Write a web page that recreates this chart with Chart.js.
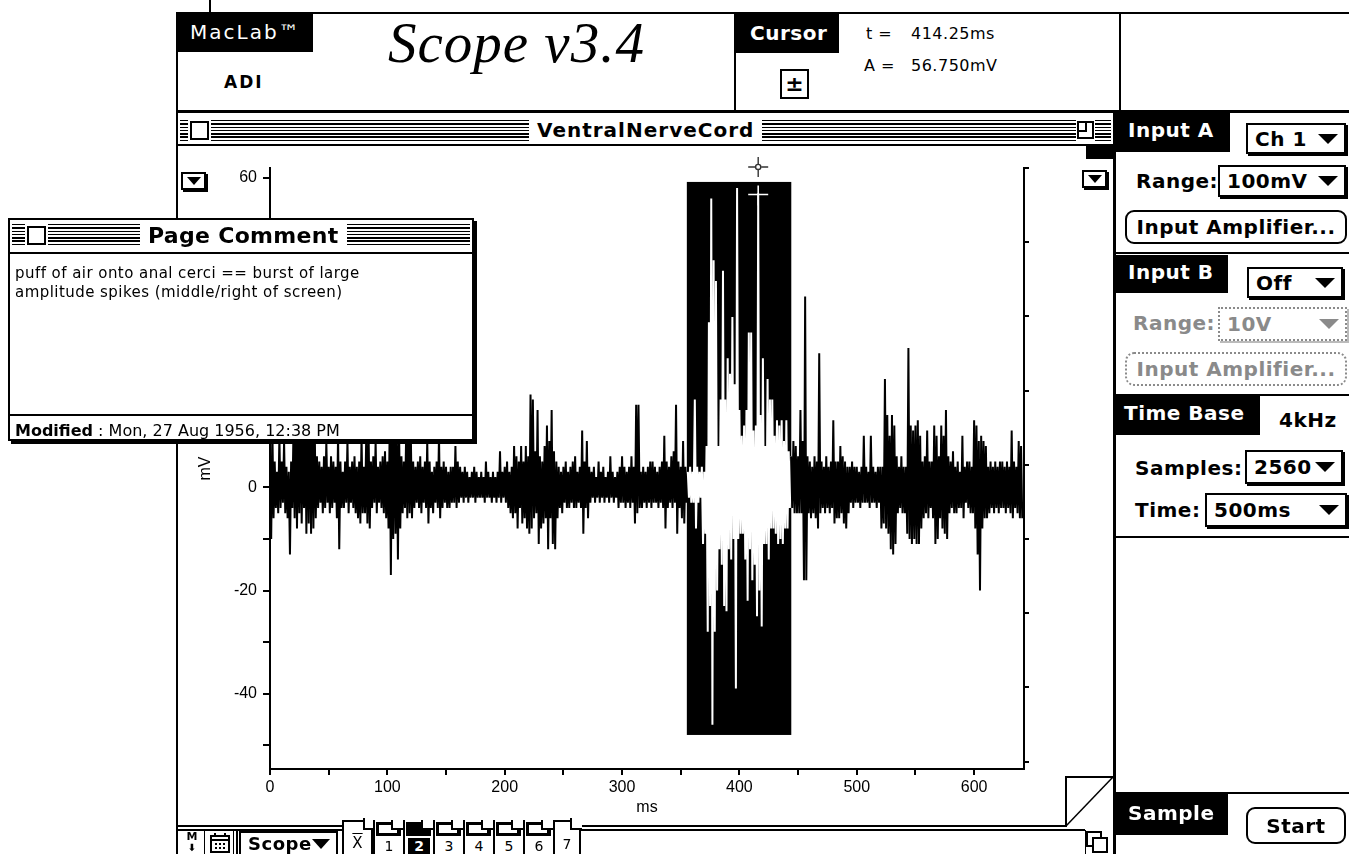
<!DOCTYPE html>
<html><head><meta charset="utf-8">
<script src="https://cdn.jsdelivr.net/npm/chart.js@4.4.1/dist/chart.umd.min.js"></script>
<style>
html,body{margin:0;padding:0;background:#fff;}
body{width:1349px;height:854px;position:relative;overflow:hidden;font-family:"DejaVu Sans",sans-serif;color:#000;}
.a{position:absolute;box-sizing:border-box;}
.blk{background:#000;color:#fff;}
.lbl{font-weight:bold;font-size:20px;letter-spacing:0.5px;line-height:24px;white-space:nowrap;}
.stripes{background:repeating-linear-gradient(to bottom,#000 0px,#000 1.4px,#fff 1.4px,#fff 3.3px);}
.popup{border:2px solid #000;box-shadow:2px 2px 0 #000;background:#fff;font-weight:bold;font-size:20px;letter-spacing:0.5px;display:flex;align-items:center;justify-content:space-between;padding:0 6px 0 7px;white-space:nowrap;}
.btn{border:2px solid #000;border-radius:9px;background:#fff;font-weight:bold;font-size:20px;letter-spacing:0.5px;display:flex;align-items:center;justify-content:center;white-space:nowrap;}
.dd{display:inline-block;width:0;height:0;border-left:10px solid transparent;border-right:10px solid transparent;border-top:10px solid #000;}
.ddg{border-top-color:#8a8a8a;}
.g{color:#8a8a8a;}
.geneva{font-family:"DejaVu Sans",sans-serif;font-size:16px;letter-spacing:0.5px;line-height:16px;white-space:nowrap;}
.tab{position:absolute;top:820px;height:34px;width:30px;border-left:2px solid #000;background:#fff;font-size:14px;text-align:center;}
</style></head>
<body>
<!-- header -->
<div class="a" style="left:209px;top:0;width:2px;height:13px;background:#000"></div>
<div class="a" style="left:176px;top:12px;width:1173px;height:101px;border-top:2px solid #000;border-left:2px solid #000;border-bottom:3px solid #000"></div>
<div class="a blk" style="left:176px;top:13px;width:137px;height:39px;font-size:20px;letter-spacing:2px;line-height:39px;padding-left:14px">MacLab™</div>
<div class="a lbl" style="left:224px;top:70px;font-size:17px;letter-spacing:2px">ADI</div>
<div class="a" style="left:388px;top:8px;font-family:'Liberation Serif',serif;font-style:italic;font-size:57px;line-height:70px;letter-spacing:1px;white-space:nowrap">Scope v3.4</div>
<div class="a" style="left:734px;top:12px;width:2px;height:100px;background:#000"></div>
<div class="a blk lbl" style="left:736px;top:13px;width:103px;height:40px;padding:8px 0 0 14px">Cursor</div>
<div class="a geneva" style="left:866px;top:26px">t =</div>
<div class="a geneva" style="left:911px;top:26px">414.25ms</div>
<div class="a geneva" style="left:864px;top:58px">A =</div>
<div class="a geneva" style="left:911px;top:58px">56.750mV</div>
<div class="a" style="left:780px;top:69px;width:29px;height:30px;border:2px solid #000;font-weight:bold;font-size:22px;line-height:25px;text-align:center">±</div>
<div class="a" style="left:1119px;top:12px;width:2px;height:100px;background:#000"></div>

<!-- main window frame -->
<div class="a" style="left:176px;top:112px;width:2px;height:742px;background:#000"></div>
<div class="a" style="left:178px;top:144px;width:935px;height:2px;background:#000"></div>
<div class="a stripes" style="left:180px;top:120px;width:931px;height:22px"></div>
<div class="a" style="left:190px;top:121px;width:19px;height:19px;border:2px solid #000;background:#fff;box-shadow:0 0 0 2px #fff"></div>
<div class="a lbl" style="left:529px;top:116px;height:28px;background:#fff;padding:2px 8px 0 8px;font-size:20px;letter-spacing:1px">VentralNerveCord</div>
<div class="a" style="left:1076px;top:119px;width:19px;height:23px;background:#fff"></div>
<div class="a" style="left:1077px;top:121px;width:17px;height:18px;border:2px solid #000;background:#fff"></div>
<div class="a" style="left:1077px;top:121px;width:10px;height:11px;border-right:2px solid #000;border-bottom:2px solid #000"></div>
<div class="a" style="left:1086px;top:146px;width:29px;height:13px;background:#000"></div>
<div class="a" style="left:181px;top:172px;width:25px;height:18px;border:2px solid #000;box-shadow:2px 2px 0 #000;background:#fff;display:flex;align-items:center;justify-content:center"><span class="dd" style="border-left-width:7px;border-right-width:7px;border-top-width:8px"></span></div>
<div class="a" style="left:1082px;top:170px;width:25px;height:18px;border:2px solid #000;box-shadow:2px 2px 0 #000;background:#fff;display:flex;align-items:center;justify-content:center"><span class="dd" style="border-left-width:7px;border-right-width:7px;border-top-width:8px"></span></div>

<canvas id="c" class="a" width="935" height="680" style="left:178px;top:146px;width:935px;height:680px"></canvas>

<!-- size box -->
<svg class="a" style="left:1065px;top:776px" width="50" height="52"><rect x="1" y="1" width="50" height="52" fill="#fff"/><line x1="1" y1="0" x2="1" y2="51" stroke="#000" stroke-width="2"/><line x1="0" y1="1" x2="50" y2="1" stroke="#000" stroke-width="2"/><line x1="1" y1="50" x2="48" y2="1" stroke="#000" stroke-width="1.5"/></svg>

<!-- bottom toolbar -->
<div class="a" style="left:178px;top:825px;width:888px;height:2px;background:#000"></div>
<div class="a" style="left:178px;top:829px;width:907px;height:2px;background:#000"></div>
<div class="a" style="left:185px;top:831px;font-size:11px;line-height:11px;font-weight:bold;text-align:center;width:14px">M<br><span style="font-size:10px">⬇</span></div>
<div class="a" style="left:204px;top:831px;width:1px;height:23px;background:#000"></div>
<svg class="a" style="left:210px;top:833px" width="21" height="20"><rect x="1" y="3" width="18" height="16" fill="#fff" stroke="#000" stroke-width="2"/><line x1="1" y1="7" x2="19" y2="7" stroke="#000" stroke-width="2"/><g fill="#000"><rect x="5" y="10" width="2" height="2"/><rect x="9" y="10" width="2" height="2"/><rect x="13" y="10" width="2" height="2"/><rect x="5" y="14" width="2" height="2"/><rect x="9" y="14" width="2" height="2"/><rect x="13" y="14" width="2" height="2"/><rect x="4" y="0" width="2" height="4"/><rect x="14" y="0" width="2" height="4"/></g></svg>
<div class="a" style="left:233px;top:831px;width:1px;height:23px;background:#000"></div>
<div class="a" style="left:236px;top:831px;width:2px;height:23px;background:#000"></div>
<div class="a popup" style="left:239px;top:831px;width:99px;height:25px;box-shadow:none;font-size:18px">Scope<span class="dd" style="border-left-width:9px;border-right-width:9px;border-top-width:10px"></span></div>
<div class="a" style="left:342px;top:820px;width:31px;height:34px;border:2px solid #000;border-bottom:none;background:#fff;font-size:15px;text-align:center;line-height:18px;padding-top:12px"><span style="text-decoration:overline">X</span></div>
<div class="a" style="left:363px;top:818px;width:12px;height:12px;background:#fff;border-left:2px solid #000;border-bottom:2px solid #000"></div>
<div id="tabs"></div>
<div class="a" style="left:553px;top:820px;width:28px;height:34px;border:2px solid #000;border-bottom:none;background:#fff;font-size:14px;text-align:center;padding-top:14px">7</div>
<div class="a" style="left:570px;top:818px;width:12px;height:12px;background:#fff;border-left:2px solid #000;border-bottom:2px solid #000"></div>
<svg class="a" style="left:1085px;top:830px" width="28" height="24"><rect x="2" y="2" width="14" height="14" fill="#fff" stroke="#000" stroke-width="2"/><rect x="8" y="8" width="14" height="14" fill="#fff" stroke="#000" stroke-width="2"/><line x1="0" y1="0" x2="0" y2="24" stroke="#000" stroke-width="2"/></svg>

<!-- right panel -->
<div class="a" style="left:1113px;top:112px;width:3px;height:742px;background:#000"></div>
<div class="a blk lbl" style="left:1116px;top:113px;width:114px;height:39px;padding:5px 0 0 12px">Input A</div>
<div class="a popup" style="left:1246px;top:123px;width:100px;height:31px">Ch 1<span class="dd"></span></div>
<div class="a lbl" style="left:1136px;top:169px">Range:</div>
<div class="a popup" style="left:1218px;top:165px;width:128px;height:32px">100mV<span class="dd"></span></div>
<div class="a btn" style="left:1125px;top:210px;width:222px;height:34px">Input Amplifier...</div>
<div class="a" style="left:1116px;top:252px;width:233px;height:2px;background:#000"></div>
<div class="a blk lbl" style="left:1116px;top:255px;width:112px;height:38px;padding:5px 0 0 12px">Input B</div>
<div class="a popup" style="left:1247px;top:267px;width:96px;height:31px">Off<span class="dd"></span></div>
<div class="a lbl g" style="left:1133px;top:311px">Range:</div>
<div class="a popup g" style="left:1218px;top:307px;width:129px;height:34px;border:2px dotted #8a8a8a;box-shadow:2px 2px 0 #bbb">10V<span class="dd ddg"></span></div>
<div class="a btn g" style="left:1125px;top:352px;width:222px;height:34px;border:2px dotted #8a8a8a">Input Amplifier...</div>
<div class="a" style="left:1116px;top:394px;width:233px;height:2px;background:#000"></div>
<div class="a blk lbl" style="left:1116px;top:396px;width:144px;height:39px;padding:5px 0 0 8px">Time Base</div>
<div class="a lbl" style="left:1279px;top:408px">4kHz</div>
<div class="a lbl" style="left:1135px;top:456px">Samples:</div>
<div class="a popup" style="left:1245px;top:450px;width:98px;height:34px">2560<span class="dd"></span></div>
<div class="a lbl" style="left:1135px;top:498px">Time:</div>
<div class="a popup" style="left:1205px;top:493px;width:142px;height:34px">500ms<span class="dd"></span></div>
<div class="a" style="left:1116px;top:536px;width:233px;height:2px;background:#000"></div>
<div class="a" style="left:1116px;top:792px;width:233px;height:2px;background:#000"></div>
<div class="a blk lbl" style="left:1116px;top:794px;width:112px;height:41px;padding:7px 0 0 12px">Sample</div>
<div class="a btn" style="left:1246px;top:807px;width:100px;height:37px">Start</div>

<!-- page comment window -->
<div class="a" style="left:8px;top:218px;width:466px;height:223px;border:2px solid #000;box-shadow:3px 3px 0 #000;background:#fff;z-index:10">
  <div class="a" style="left:0;top:32px;width:462px;height:2px;background:#000"></div>
  <div class="a stripes" style="left:2px;top:4px;width:458px;height:23px"></div>
  <div class="a" style="left:17px;top:6px;width:19px;height:19px;border:2px solid #000;background:#fff;box-shadow:0 0 0 2px #fff"></div>
  <div class="a lbl" style="left:130px;top:1px;height:30px;background:#fff;padding:2px 8px 0 8px;font-size:22px;letter-spacing:0.3px;line-height:26px">Page Comment</div>
  <div class="a" style="left:5px;top:44px;font-size:15px;letter-spacing:0.45px;line-height:19px;white-space:nowrap">puff of air onto anal cerci == burst of large<br>amplitude spikes (middle/right of screen)</div>
  <div class="a" style="left:0;top:194px;width:462px;height:2px;background:#000"></div>
  <div class="a" style="left:5px;top:201px;font-size:16px;line-height:19px;white-space:nowrap"><b>Modified</b> : Mon, 27 Aug 1956, 12:38 PM</div>
</div>

<script>
// ---- data ----
const sampleStepMs = 1;
const traceMv = [
4,-10,12,-6,5,-4,3,-5,10,-4,
5,-3,9,-5,4,-6,3,-13,5,-4,
11,-6,14,-8,12,-5,15,-7,10,-4,
13,-9,18,-7,20,-9,16,-8,14,-6,
6,-4,5,-3,4,-5,6,-4,9,-3,
4,-5,6,-4,5,-3,4,-6,10,-12,
5,-4,3,-4,5,-3,9,-5,4,-3,
5,-4,6,-5,4,-6,5,-7,10,-5,
4,-5,10,-7,11,-8,5,-4,6,-3,
9,-5,4,-3,5,-4,6,-5,7,-6,
5,-8,12,-17,14,-10,16,-9,12,-14,
11,-8,6,-5,5,-4,10,-6,12,-5,
10,-6,5,-4,4,-3,5,-4,6,-5,
4,-3,5,-4,9,-7,5,-4,3,-5,
4,-3,5,-4,10,-6,4,-4,5,-3,
4,-4,3,-4,4,-3,4,-3,8,-4,
5,-3,4,-2,3,-3,4,-2,3,-3,
2,-2,3,-2,4,-3,3,-2,2,-2,
3,-2,2,-3,5,-2,3,-2,2,-3,
3,-2,2,-3,3,-2,7,-3,3,-2,
4,-3,5,-4,3,-5,4,-6,8,-5,
6,-8,5,-4,8,-7,5,-6,8,-8,
6,-9,18,-8,17,-6,7,-5,15,-11,
6,-8,5,-7,8,-6,12,-12,9,-6,
15,-11,7,-12,5,-6,4,-4,3,-5,
4,-3,5,-4,3,-4,4,-3,5,-4,
6,-4,3,-3,4,-4,11,-9,5,-4,
9,-6,4,-3,3,-2,4,-3,2,-2,
5,-3,3,-2,4,-3,2,-2,3,-3,
6,-2,3,-3,2,-2,3,-4,4,-3,
6,-3,4,-4,3,-3,4,-4,6,-3,
4,-7,16,-5,16,-4,3,-4,4,-3,
3,-4,4,-3,5,-4,5,-3,4,-3,
3,-4,4,-3,5,-4,10,-8,5,-4,
4,-3,6,-4,7,-3,16,-9,5,-4,
4,-6,9,-7,4,-3,3,-2,4,-3,
3,-3,17,-8,4,-3,3,-2,4,-11,
3,-9,8,-28,32,-23,56,-46,44,-28,
40,-20,8,-12,17,-15,42,-23,17,-24,
25,-12,22,-14,33,-10,20,-39,58,-10,
15,-9,10,-9,12,-14,15,-22,30,-12,
30,-18,11,-15,12,-25,57,-20,14,-27,
25,-11,8,-11,21,-14,17,-8,17,-8,
10,-9,13,-11,12,-10,13,-11,9,-8,
13,-8,7,-4,6,-4,9,-5,8,-5,
6,-5,15,-5,9,-18,37,-18,6,-5,
5,-6,4,-5,6,-6,5,-8,26,-5,
5,-4,4,-5,6,-4,4,-5,5,-4,
13,-7,5,-6,5,-6,8,-5,6,-7,
5,-8,4,-5,4,-3,5,-4,4,-3,
4,-3,3,-4,4,-3,10,-3,4,-3,
3,-4,10,-3,4,-3,3,-4,4,-3,
4,-8,4,-7,21,-8,14,-9,10,-12,
14,-13,12,-11,6,-5,4,-4,6,-5,
4,-5,4,-9,27,-10,12,-11,11,-10,
12,-11,13,-11,10,-8,5,-6,6,-5,
11,-6,5,-4,5,-6,12,-11,10,-10,
6,-6,12,-8,10,-9,15,-10,6,-5,
5,-4,7,-5,4,-5,5,-4,3,-4,
10,-6,4,-3,5,-4,5,-5,4,-5,
13,-8,12,-13,9,-20,10,-8,9,-6,
8,-6,4,-5,5,-4,4,-5,5,-4,
4,-5,5,-4,5,-4,4,-5,5,-4,
4,-5,11,-6,5,-4,4,-5,9,-6,
8,-6
];
const xTickMs = [0,50,100,150,200,250,300,350,400,450,500,550,600];
const xLabelEveryMs = 100;
const yTickMv = [60,50,40,30,20,10,0,-10,-20,-30,-40,-50];
const yLabelEveryMv = 20;
const rightAxisTicks = [0,1,2,3,4,5,6,7,8];
const xRangeMs = [0, 642.5];
const yRangeMv = [-54.6, 61.9];
const rightRange = [-0.1, 8];
const selectionMs = [355.2, 444.2];
const selectionMv = [-48.0, 59.2];
const cursorMs = 416;
const cursorMv = 56.75;
const markerMv = 62.1;
const tabLabels = ['1','2','3','4','5','6'];
const selectedTab = '2';

// ---- tabs ----
(function(){
  const host = document.getElementById('tabs');
  tabLabels.forEach((t,i)=>{
    const sel = t===selectedTab;
    const d = document.createElement('div');
    d.className='tab';
    d.style.left=(373+i*30)+'px';
    d.innerHTML = '<div style="position:absolute;left:1px;top:2px;width:25px;height:14px;box-sizing:border-box;border:3px solid #000;border-right-width:4px;background:'+(sel?'#000':'#fff')+'"></div>'+
      '<div style="position:absolute;left:16px;top:0px;width:10px;height:8px;background:#fff;border-left:2px solid #000;border-bottom:2px solid #000"></div>'+
      '<div style="position:absolute;left:'+(sel?'3':'0')+'px;top:18px;width:'+(sel?'22':'28')+'px;height:16px;line-height:16px;font-size:14px;'+(sel?'background:#000;color:#fff;font-weight:bold;':'')+'">'+t+'</div>';
    host.appendChild(d);
  });
})();

// ---- chart ----
const inSel = v => v >= selectionMs[0] && v <= selectionMs[1];
const overlay = {
  id:'overlay',
  beforeDatasetsDraw(chart){
    const {ctx, scales:{x,y}} = chart;
    const x0 = x.getPixelForValue(selectionMs[0]), x1 = x.getPixelForValue(selectionMs[1]);
    const y0 = y.getPixelForValue(selectionMv[1]), y1 = y.getPixelForValue(selectionMv[0]);
    ctx.save(); ctx.fillStyle='#000'; ctx.fillRect(x0,y0,x1-x0,y1-y0); ctx.restore();
  },
  afterDatasetsDraw(chart){
    const {ctx, scales:{x,y}} = chart;
    const cx = x.getPixelForValue(cursorMs);
    const cy = y.getPixelForValue(cursorMv);
    const my = y.getPixelForValue(markerMv);
    ctx.save();
    ctx.strokeStyle='#fff'; ctx.lineWidth=1.6;
    ctx.beginPath();
    ctx.moveTo(cx-10,cy); ctx.lineTo(cx+10,cy);
    ctx.moveTo(cx,cy-9); ctx.lineTo(cx,cy+11);
    ctx.stroke();
    ctx.strokeStyle='#333'; ctx.lineWidth=1.4;
    ctx.beginPath();
    ctx.moveTo(cx-10,my); ctx.lineTo(cx-3,my);
    ctx.moveTo(cx+3,my); ctx.lineTo(cx+10,my);
    ctx.moveTo(cx,my-10); ctx.lineTo(cx,my-3);
    ctx.moveTo(cx,my+3); ctx.lineTo(cx,my+10);
    ctx.stroke();
    ctx.beginPath(); ctx.arc(cx,my,2.6,0,Math.PI*2); ctx.fillStyle='#fff'; ctx.fill(); ctx.stroke();
    ctx.restore();
  }
};
const tickFont = {family:'Liberation Sans', size:16};
new Chart(document.getElementById('c'), {
  type:'line',
  data:{datasets:[{
    data: traceMv.map((v,i)=>({x:i*sampleStepMs, y:v})),
    borderColor:'#000', borderWidth:2, pointRadius:0, tension:0,
    borderJoinStyle:'bevel',
    segment:{borderColor: c => (inSel(c.p0.parsed.x) && inSel(c.p1.parsed.x)) ? '#fff' : '#000'}
  }]},
  options:{
    responsive:false, animation:false, devicePixelRatio:1, events:[],
    layout:{padding:{top:22,left:0,right:0,bottom:0}},
    plugins:{legend:{display:false}, tooltip:{enabled:false}},
    scales:{
      x:{type:'linear', min:xRangeMs[0], max:xRangeMs[1],
        afterBuildTicks:s=>{s.ticks=xTickMs.map(v=>({value:v}));},
        afterFit:s=>{s.height=57;},
        ticks:{callback:v=> v%xLabelEveryMs===0 ? String(v) : '', font:tickFont, color:'#000', padding:3, maxRotation:0, autoSkip:false},
        grid:{drawOnChartArea:false, drawTicks:true, tickLength:6, color:'#000', lineWidth:2},
        border:{display:true, color:'#000', width:2},
        title:{display:true, text:'ms', font:tickFont, color:'#000', padding:{top:0,bottom:9}}
      },
      y:{type:'linear', position:'left', min:yRangeMv[0], max:yRangeMv[1],
        afterBuildTicks:s=>{s.ticks=yTickMv.map(v=>({value:v}));},
        afterFit:s=>{s.width=92;},
        ticks:{callback:v=> v%yLabelEveryMv===0 ? String(v) : '', font:tickFont, color:'#000', padding:6, autoSkip:false},
        grid:{drawOnChartArea:false, drawTicks:true, tickLength:7, color:'#000', lineWidth:2},
        border:{display:true, color:'#000', width:2},
        title:{display:true, text:'mV', font:tickFont, color:'#000', padding:{top:18,bottom:0}}
      },
      y2:{type:'linear', position:'right', min:rightRange[0], max:rightRange[1],
        afterBuildTicks:s=>{s.ticks=rightAxisTicks.map(v=>({value:v}));},
        afterFit:s=>{s.width=89;},
        ticks:{display:false},
        grid:{drawOnChartArea:false, drawTicks:true, tickLength:5, color:'#000', lineWidth:2},
        border:{display:true, color:'#000', width:2}
      }
    }
  },
  plugins:[overlay]
});
</script>
</body></html>
